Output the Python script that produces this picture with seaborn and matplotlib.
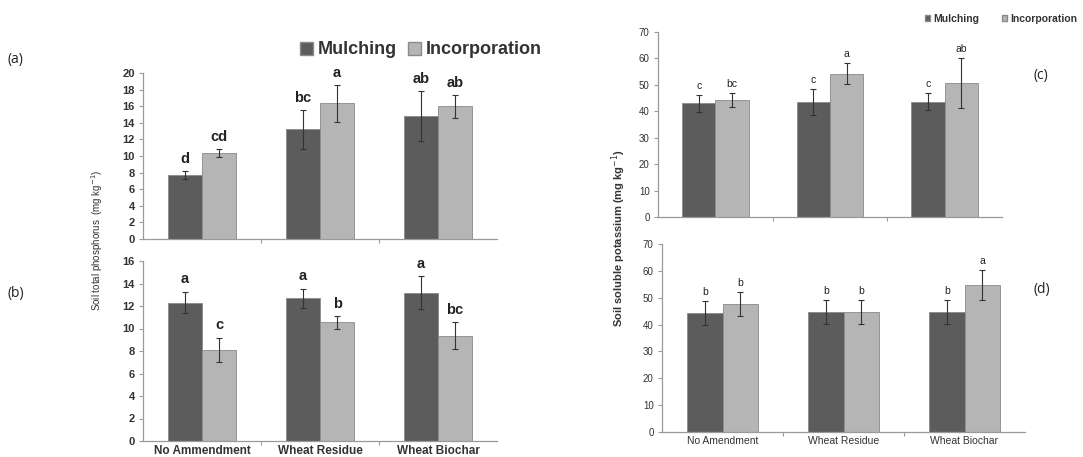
import matplotlib
matplotlib.use("Agg")
import matplotlib.pyplot as plt
import seaborn as sns
import pandas as pd
import numpy as np

categories_left = ["No Ammendment", "Wheat Residue", "Wheat Biochar"]
categories_right = ["No Amendment", "Wheat Residue", "Wheat Biochar"]
treatments = ["Mulching", "Incorporation"]

# (a) soil total phosphorus, first panel
a_mulch = [7.7, 13.2, 14.8]
a_mulch_err = [0.5, 2.4, 3.0]
a_incorp = [10.35, 16.35, 16.0]
a_incorp_err = [0.5, 2.2, 1.4]
a_letters_mulch = ["d", "bc", "ab"]
a_letters_incorp = ["cd", "a", "ab"]

# (b) soil total phosphorus, second panel
b_mulch = [12.3, 12.7, 13.2]
b_mulch_err = [0.95, 0.85, 1.45]
b_incorp = [8.1, 10.55, 9.35]
b_incorp_err = [1.1, 0.55, 1.2]
b_letters_mulch = ["a", "a", "a"]
b_letters_incorp = ["c", "b", "bc"]

# (c) soil soluble potassium, first panel
c_mulch = [43.0, 43.5, 43.7]
c_mulch_err = [3.2, 5.0, 3.2]
c_incorp = [44.3, 54.2, 50.6]
c_incorp_err = [2.5, 4.0, 9.4]
c_letters_mulch = ["c", "c", "c"]
c_letters_incorp = ["bc", "a", "ab"]

# (d) soil soluble potassium, second panel
d_mulch = [44.2, 44.7, 44.7]
d_mulch_err = [4.4, 4.6, 4.6]
d_incorp = [47.7, 44.7, 54.8]
d_incorp_err = [4.6, 4.6, 5.6]
d_letters_mulch = ["b", "b", "b"]
d_letters_incorp = ["b", "b", "a"]

DARK = "#5c5c5c"
LIGHT = "#b5b5b5"
AX_COL = "#9a9a9a"

sns.set_theme(style="white")
plt.rcParams['font.family'] = ['Liberation Sans', 'DejaVu Sans']

W, H = 1083, 457
fig = plt.figure(figsize=(W / 100, H / 100), dpi=100)


def px_axes(x0, y0, x1, y1):
    return fig.add_axes([x0 / W, 1 - y1 / H, (x1 - x0) / W, (y1 - y0) / H])


def panel(ax, cats, mulch, merr, incorp, ierr, lm, li, ymax, ystep,
          bold, fs_tick, fs_letter, letter_off, show_x):
    df = pd.DataFrame({
        "cat": cats * 2,
        "trt": [treatments[0]] * 3 + [treatments[1]] * 3,
        "val": list(mulch) + list(incorp),
    })
    sns.barplot(data=df, x="cat", y="val", hue="trt", order=cats,
                hue_order=treatments, palette=[DARK, LIGHT], width=0.58,
                errorbar=None, ax=ax, legend=False, edgecolor="#8a8a8a",
                linewidth=0.6, saturation=1)
    errs = list(merr) + list(ierr)
    vals = list(mulch) + list(incorp)
    letters = list(lm) + list(li)
    patches = ax.patches[:6]
    for p, v, e, l in zip(patches, vals, errs, letters):
        xc = p.get_x() + p.get_width() / 2
        ax.errorbar(xc, v, yerr=e, fmt="none", ecolor="#333333",
                    elinewidth=0.8, capsize=2, capthick=0.8)
        ax.text(xc, v + e + letter_off, l, ha="center", va="bottom",
                fontsize=fs_letter, fontweight="bold" if bold else "normal",
                color="#222222")
    ax.set_ylim(0, ymax)
    ax.set_xlim(-0.5, 2.5)
    ax.set_yticks(np.arange(0, ymax + 0.01, ystep))
    ax.set_yticklabels([f"{int(t)}" for t in np.arange(0, ymax + 0.01, ystep)],
                       fontsize=fs_tick, fontweight="bold" if bold else "normal",
                       color="#333333")
    ax.set_xticks([0, 1, 2])
    if show_x:
        ax.set_xticklabels(cats, fontsize=fs_tick + 0.5,
                           fontweight="bold" if bold else "normal",
                           color="#333333")
    else:
        ax.set_xticklabels([])
    ax.set_xticks([0.5, 1.5], minor=True)
    ax.tick_params(axis="x", which="major", length=0, pad=3)
    ax.tick_params(axis="x", which="minor", length=3, color=AX_COL, width=0.8,
                   bottom=True)
    ax.tick_params(axis="y", which="major", length=3, color=AX_COL, width=0.8,
                   left=True, pad=3)
    ax.set_xlabel("")
    ax.set_ylabel("")
    for s in ["top", "right"]:
        ax.spines[s].set_visible(False)
    for s in ["left", "bottom"]:
        ax.spines[s].set_color(AX_COL)
        ax.spines[s].set_linewidth(0.9)


ax_a = px_axes(143, 73, 497, 239)
panel(ax_a, categories_left, a_mulch, a_mulch_err, a_incorp, a_incorp_err,
      a_letters_mulch, a_letters_incorp, 20, 2, True, 8, 10.5, 0.6, False)
ax_b = px_axes(143, 261, 497, 441)
panel(ax_b, categories_left, b_mulch, b_mulch_err, b_incorp, b_incorp_err,
      b_letters_mulch, b_letters_incorp, 16, 2, True, 8, 10.5, 0.5, True)
ax_c = px_axes(658, 32, 1002, 217)
panel(ax_c, categories_right, c_mulch, c_mulch_err, c_incorp, c_incorp_err,
      c_letters_mulch, c_letters_incorp, 70, 10, False, 7, 7.5, 1.5, False)
ax_d = px_axes(662, 244, 1025, 432)
panel(ax_d, categories_right, d_mulch, d_mulch_err, d_incorp, d_incorp_err,
      d_letters_mulch, d_letters_incorp, 70, 10, False, 7, 7.5, 1.5, True)

# y labels
fig.text(97 / W, 1 - 240 / H, "Soil total phosphorus  (mg kg$^{-1}$)",
         rotation=90, ha="center", va="center", fontsize=7, color="#333333")
fig.text(619 / W, 1 - 238 / H, "Soil soluble potassium (mg kg$^{-1}$)",
         rotation=90, ha="center", va="center", fontsize=8, fontweight="bold",
         color="#333333")

# panel labels
for lbl, x, y in [("(a)", 8, 60), ("(b)", 8, 294), ("(c)", 1033, 75), ("(d)", 1033, 290)]:
    fig.text(x / W, 1 - y / H, lbl, ha="left", va="center", fontsize=10,
             color="#222222", family=["Open Sans", "DejaVu Sans"])

# legends
from matplotlib.patches import Patch
h_left = [Patch(facecolor=DARK, edgecolor="#8a8a8a"),
          Patch(facecolor=LIGHT, edgecolor="#8a8a8a")]
leg = fig.legend(h_left, treatments, loc="center left",
                 bbox_to_anchor=(300 / W, 1 - 50 / H), ncol=2, frameon=False,
                 prop={"weight": "bold", "size": 13}, handlelength=0.7,
                 handleheight=0.7, handletextpad=0.3, columnspacing=0.6,
                 borderpad=0, borderaxespad=0)
leg2 = fig.legend(h_left, treatments, loc="center left",
                  bbox_to_anchor=(925 / W, 1 - 19 / H), ncol=2, frameon=False,
                  prop={"weight": "bold", "size": 7.5}, handlelength=0.5,
                  handleheight=0.5, handletextpad=0.3, columnspacing=2.2,
                  borderpad=0, borderaxespad=0)
for t in list(leg.get_texts()) + list(leg2.get_texts()):
    t.set_color("#333333")

fig.savefig("out.png", dpi=100)
